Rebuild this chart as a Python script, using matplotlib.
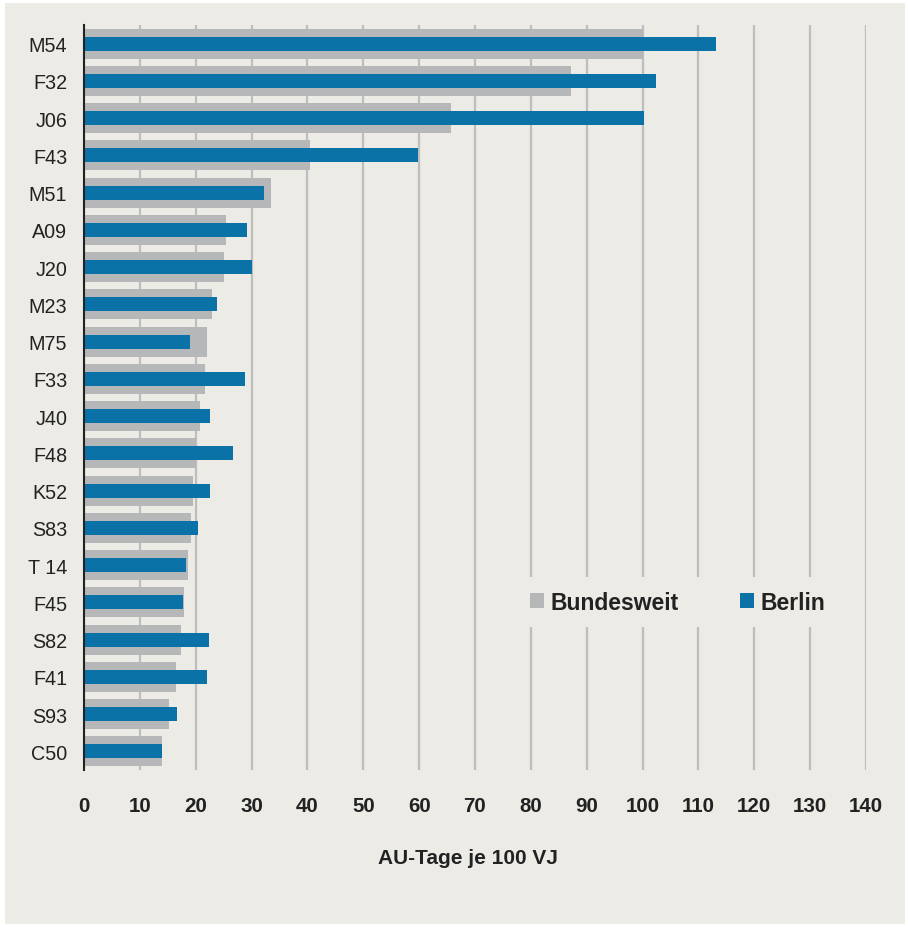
import matplotlib
matplotlib.use("Agg")
import matplotlib.pyplot as plt
from matplotlib.patches import Rectangle
import numpy as np

plt.rcParams['font.family'] = ['Liberation Sans', 'DejaVu Sans']

categories = ["M54", "F32", "J06", "F43", "M51", "A09", "J20", "M23", "M75", "F33",
              "J40", "F48", "K52", "S83", "T 14", "F45", "S82", "F41", "S93", "C50"]
bundesweit = [100.1, 87.2, 65.7, 40.5, 33.5, 25.4, 25.1, 22.9, 22.0, 21.7,
              20.8, 20.0, 19.5, 19.2, 18.6, 17.9, 17.4, 16.5, 15.2, 14.0]
berlin = [113.1, 102.4, 100.2, 59.8, 32.2, 29.2, 30.1, 23.8, 19.0, 28.8,
          22.6, 26.7, 22.6, 20.4, 18.3, 17.7, 22.4, 22.0, 16.6, 14.0]
xticks = list(range(0, 141, 10))

BG = "#ECEBE6"
GREY = "#B6B7B9"
BLUE = "#0B72A8"
TXT = "#222222"

fig = plt.figure(figsize=(9.08, 9.28), dpi=100, facecolor="white")
fig.patches.append(Rectangle((5/908, 3/928), 900/908, 921/928, transform=fig.transFigure,
                             facecolor=BG, edgecolor="none", zorder=-10))

ax = fig.add_axes([84/908, 1-771/928, 782/908, 745/928])
ax.set_facecolor(BG)

y = np.arange(len(categories))
ax.barh(y, bundesweit, height=0.8, color=GREY, label="Bundesweit", zorder=2)
ax.barh(y, berlin, height=0.38, color=BLUE, label="Berlin", zorder=3)

ax.set_ylim(len(categories) - 0.5, -0.5)
ax.set_xlim(0, 140)
ax.set_yticks(y)
ax.set_yticklabels(categories, fontsize=14.2, color=TXT)
ax.set_xticks(xticks)
ax.set_xticklabels([str(t) for t in xticks], fontsize=14.8, fontweight="bold", color=TXT)
ax.tick_params(axis="both", length=0)
ax.tick_params(axis="x", pad=19)
ax.tick_params(axis="y", pad=12)

ax.grid(axis="x", color="#BEBEBE", linewidth=1.6, zorder=0)
ax.set_axisbelow(True)
for s in ["top", "right", "bottom"]:
    ax.spines[s].set_visible(False)
ax.spines["left"].set_color("#222222")
ax.spines["left"].set_linewidth(1.5)
ax.spines["left"].set_zorder(4)

ax.set_xlabel("AU-Tage je 100 VJ", fontsize=15, fontweight="bold", color=TXT)
ax.xaxis.set_label_coords(0.491, -0.117)
ax.xaxis.label.set_va("center")

leg = ax.legend(loc="center", bbox_to_anchor=(0.759, 0.2255), ncol=2, frameon=True,
                facecolor=BG, edgecolor="none", framealpha=1, fancybox=False,
                prop={"size": 16.5, "weight": "bold"}, handlelength=0.62, handleheight=0.62,
                handletextpad=0.3, columnspacing=2.65, borderpad=0.6)
for t in leg.get_texts():
    t.set_color(TXT)
leg.set_zorder(5)

fig.savefig("out.png", dpi=100, facecolor="white")
